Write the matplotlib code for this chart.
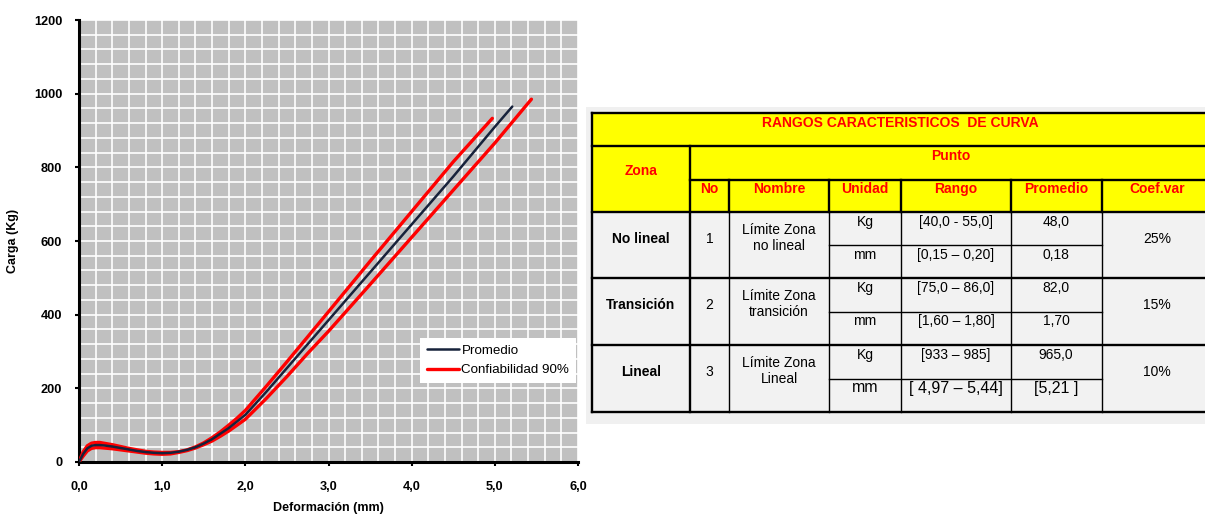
import numpy as np
import matplotlib.pyplot as plt
from matplotlib.patches import Rectangle

# curve data
x_avg = [0, 0.05, 0.1, 0.15, 0.2, 0.25, 0.3, 0.4, 0.5, 0.6, 0.7, 0.8, 0.9, 1.0, 1.1, 1.2, 1.3, 1.4,
         1.5, 1.6, 1.7, 1.8, 1.9, 2.0, 2.25, 2.5, 2.75, 3.0, 3.5, 4.0, 4.5, 5.0, 5.21]
y_avg = [0, 22, 37, 44, 46, 46, 45, 42, 38, 34, 30, 27, 25, 24, 25, 28, 33, 40,
         50, 62, 77, 92, 110, 128, 190, 255, 320, 385, 515, 645, 775, 910, 965]

x_up = [0, 0.05, 0.1, 0.15, 0.2, 0.25, 0.3, 0.4, 0.5, 0.6, 0.7, 0.8, 0.9, 1.0, 1.1, 1.2, 1.3, 1.4,
        1.5, 1.6, 1.7, 1.8, 1.9, 2.0, 2.25, 2.5, 2.75, 3.0, 3.5, 4.0, 4.5, 4.97]
y_up = [0, 28, 44, 51, 53, 53, 51, 47, 42, 37, 33, 29, 27, 26, 26, 28, 33, 41,
        52, 66, 82, 100, 119, 140, 205, 272, 340, 408, 545, 680, 815, 933]

x_low = [0, 0.05, 0.1, 0.15, 0.2, 0.25, 0.3, 0.4, 0.5, 0.6, 0.7, 0.8, 0.9, 1.0, 1.1, 1.2, 1.3, 1.4,
         1.5, 1.6, 1.7, 1.8, 1.9, 2.0, 2.25, 2.5, 2.75, 3.0, 3.5, 4.0, 4.5, 5.0, 5.44]
y_low = [0, 16, 30, 37, 39, 39, 38, 36, 33, 30, 27, 24, 22, 21, 22, 26, 31, 38,
         47, 57, 70, 84, 100, 116, 172, 232, 295, 355, 482, 610, 738, 866, 985]

xticks = [0, 1, 2, 3, 4, 5, 6]
xtick_labels = ['0,0', '1,0', '2,0', '3,0', '4,0', '5,0', '6,0']
yticks = [0, 200, 400, 600, 800, 1000, 1200]

# table data
table_title = 'RANGOS CARACTERISTICOS  DE CURVA'
sub_headers = ['No', 'Nombre', 'Unidad', 'Rango', 'Promedio', 'Coef.var']
zones = ['No lineal', 'Transición', 'Lineal']
numbers = ['1', '2', '3']
names = [['Límite Zona', 'no lineal'], ['Límite Zona', 'transición'], ['Límite Zona', 'Lineal']]
units = ['Kg', 'mm']
ranges = [['[40,0 - 55,0]', '[0,15 – 0,20]'],
          ['[75,0 – 86,0]', '[1,60 – 1,80]'],
          ['[933 – 985]', '[ 4,97 – 5,44]']]
means = [['48,0', '0,18'], ['82,0', '1,70'], ['965,0', '[5,21 ]']]
coefs = ['25%', '15%', '10%']

plt.rcParams['font.family'] = ['Liberation Sans', 'DejaVu Sans']

fig = plt.figure(figsize=(12.05, 5.16), dpi=100)

# ---- chart ----
ax = fig.add_axes([79/1205, 54/516, 499/1205, 442/516])
ax.set_facecolor('#C0C0C0')
ax.plot(x_up, y_up, color='#FF0000', lw=2.4, solid_capstyle='round', zorder=3)
ax.plot(x_low, y_low, color='#FF0000', lw=2.4, solid_capstyle='round', zorder=3,
        label='Confiabilidad 90%')
ax.plot(x_avg, y_avg, color='#17223B', lw=1.8, solid_capstyle='round', zorder=4,
        label='Promedio')
ax.set_xlim(0, 6)
ax.set_ylim(0, 1200)
ax.set_xticks(xticks)
ax.set_xticklabels(xtick_labels)
ax.set_yticks(yticks)
ax.set_xticks(np.arange(0, 6.01, 0.2), minor=True)
ax.set_yticks(np.arange(0, 1201, 40), minor=True)
ax.grid(which='both', color='white', lw=1.2)
ax.set_axisbelow(True)
for s in ['top', 'right']:
    ax.spines[s].set_visible(False)
for s in ['left', 'bottom']:
    ax.spines[s].set_linewidth(2.2)
ax.tick_params(which='major', length=3, width=1.5, labelsize=9.2)
ax.tick_params(which='minor', length=0)
ax.tick_params(axis='x', pad=11)
ax.tick_params(axis='y', pad=9)
for lab in ax.get_xticklabels() + ax.get_yticklabels():
    lab.set_fontweight('bold')
ax.set_xlabel('Deformación (mm)', fontsize=9, fontweight='bold', labelpad=6)
ax.set_ylabel('Carga (Kg)', fontsize=9, fontweight='bold', labelpad=11)

h, l = ax.get_legend_handles_labels()
leg = ax.legend(h[::-1], l[::-1], loc='lower right', bbox_to_anchor=(0.996, 0.179),
                borderaxespad=0, fontsize=9.6, fancybox=False, framealpha=1,
                edgecolor='white', handlelength=2.4, handletextpad=0.2,
                borderpad=0.5, labelspacing=0.55)
leg.get_frame().set_linewidth(0)

# ---- table (pixel coordinates) ----
tb = fig.add_axes([0, 0, 1, 1])
tb.set_xlim(0, 1205)
tb.set_ylim(516, 0)
tb.axis('off')

cols = [592, 690, 729, 829, 901, 1011, 1102, 1230]
rows = [212, 278, 345, 412]
left, right = cols[0], cols[-1]

tb.add_patch(Rectangle((586, 107), 640, 317, color='#F0F0F0', lw=0))
tb.add_patch(Rectangle((left, 113), right - left, 99, color='#FFFF00', lw=0))
tb.add_patch(Rectangle((left, 212), right - left, 200, color='#F2F2F2', lw=0))

K = 'black'
thick = 1.7
thin = 1.0
# horizontal structure
for yy in [113, 146, 212, 278, 345, 412]:
    tb.plot([left, right], [yy, yy], color=K, lw=thick)
tb.plot([cols[1], right], [180, 180], color=K, lw=thick)
for g in range(3):
    mid = (rows[g] + rows[g + 1]) / 2
    tb.plot([cols[3], cols[6]], [mid, mid], color=K, lw=thin)
# vertical structure
tb.plot([left, left], [113, 412], color=K, lw=thick)
tb.plot([cols[1], cols[1]], [146, 412], color=K, lw=thick)
for c in cols[2:7]:
    tb.plot([c, c], [180, 212], color=K, lw=thick)
    tb.plot([c, c], [212, 412], color=K, lw=thin)

red = '#FF0000'
hdr = dict(color=red, fontweight='bold', ha='center', va='center')
tb.text(900, 123, table_title, fontsize=10, **hdr)
tb.text(951, 156, 'Punto', fontsize=10, **hdr)
tb.text(641, 171, 'Zona', fontsize=10, **hdr)
for i, t in enumerate(sub_headers):
    tb.text((cols[i + 1] + cols[i + 2]) / 2 if i < 5 else 1157, 189, t, fontsize=10, **hdr)

txt = dict(color='black', ha='center', va='center')
for g in range(3):
    t = rows[g]
    tb.text(641, t + 27, zones[g], fontsize=10, fontweight='bold', **txt)
    tb.text(709.5, t + 27, numbers[g], fontsize=10, **txt)
    tb.text(779, t + 18, names[g][0], fontsize=10, **txt)
    tb.text(779, t + 34, names[g][1], fontsize=10, **txt)
    big = 11.5 if g == 2 else 10
    tb.text(865, t + 10, units[0], fontsize=10, **txt)
    tb.text(865, t + 43, units[1], fontsize=big, **txt)
    tb.text(956, t + 10, ranges[g][0], fontsize=10, **txt)
    tb.text(956, t + 43, ranges[g][1], fontsize=big, **txt)
    tb.text(1056, t + 10, means[g][0], fontsize=10, **txt)
    tb.text(1056, t + 43, means[g][1], fontsize=big, **txt)
    tb.text(1157, t + 27, coefs[g], fontsize=10, **txt)

fig.savefig('out.png', dpi=100)
